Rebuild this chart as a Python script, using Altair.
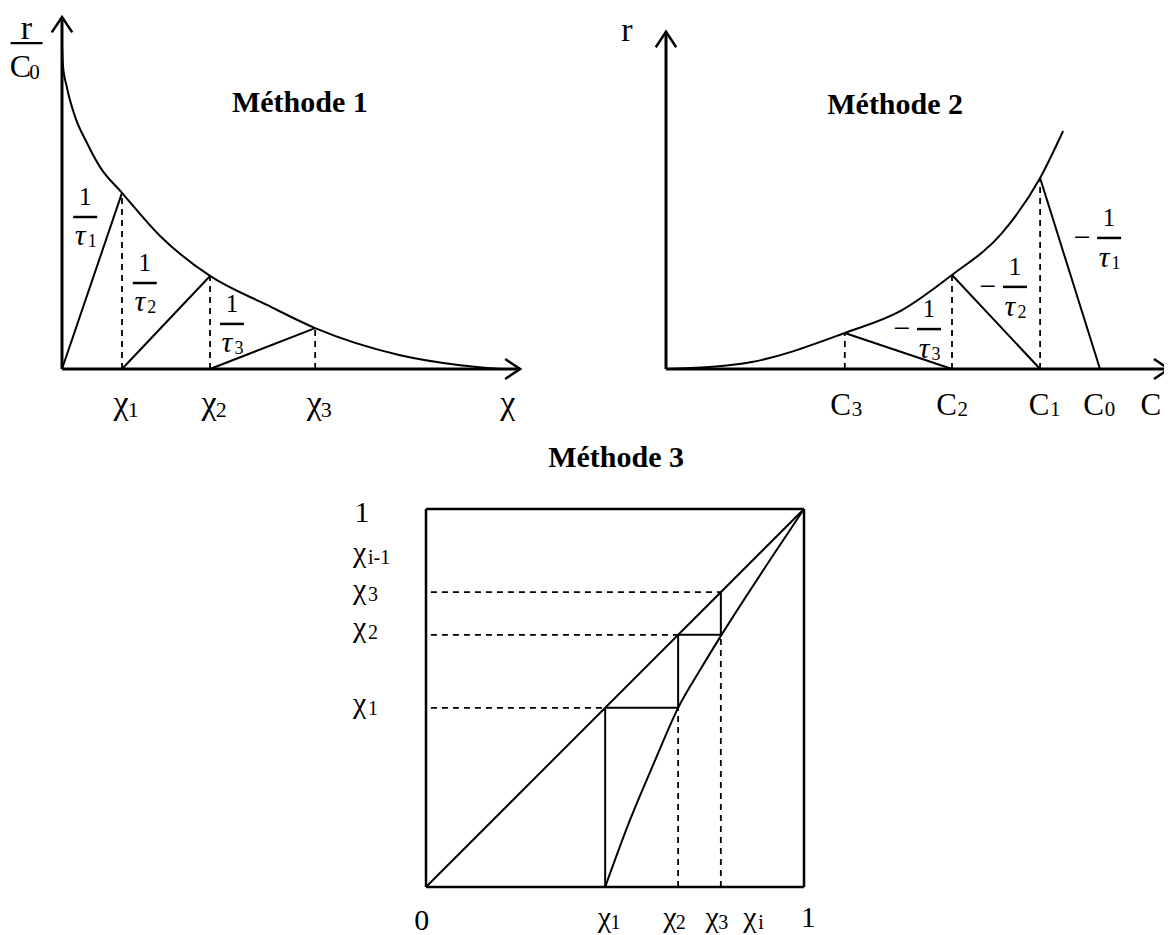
import altair as alt
import pandas as pd

W, H = 1156, 927
FONT = "Liberation Serif"
NB = "\u00a0"

# ---------------- Méthode 1 : r/C0 = f(χ) ----------------
m1_curve_x = [0.0, 0.002, 0.011, 0.030, 0.057, 0.087, 0.137, 0.224, 0.338, 0.468, 0.578, 0.772, 0.909, 1.0]
m1_curve_y = [1.0, 0.944, 0.876, 0.783, 0.702, 0.627, 0.547, 0.413, 0.289, 0.199, 0.127, 0.043, 0.012, 0.0]
m1_chi = [0.137, 0.338, 0.578]
m1_rate = [0.547, 0.289, 0.127]
m1_tick_sub = ["1", "2", "3", ""]
m1_tick_pos = [0.135, 0.336, 0.576, 1.018]
m1_frac_x = [0.053, 0.189, 0.388]
m1_frac_y = [0.472, 0.267, 0.140]
m1_frac_sub = ["1", "2", "3"]
m1_axis_end = [1.046, 1.093]

# ---------------- Méthode 2 : r = f(C) ----------------
m2_curve_x = [0.0, 0.100, 0.198, 0.412, 0.544, 0.659, 0.774, 0.862, 0.915]
m2_curve_y = [0.0, 0.006, 0.022, 0.112, 0.183, 0.292, 0.422, 0.593, 0.739]
m2_conc = [0.862, 0.659, 0.412]      # C1, C2, C3
m2_rate = [0.593, 0.292, 0.112]
m2_c0 = 1.0
m2_tick_main = ["C", "C", "C", "C", "C"]
m2_tick_sub = ["3", "2", "1", "0", ""]
m2_tick_pos = [0.407, 0.651, 0.864, 0.990, 1.122]
m2_frac_x = [1.021, 0.804, 0.606]
m2_frac_y = [0.407, 0.255, 0.124]
m2_frac_sub = ["1", "2", "3"]
m2_axis_end = [1.159, 1.047]

# ---------------- Méthode 3 : diagramme en escalier ----------------
m3_curve_x = [0.474, 0.540, 0.606, 0.667, 0.725, 0.783, 0.910, 1.0]
m3_curve_y = [0.0, 0.178, 0.335, 0.474, 0.574, 0.669, 0.865, 1.0]
m3_chi = [0.474, 0.667, 0.780]
m3_left_sub = [NB + "i-1", NB + "3", "2", "1"]
m3_left_pos = [0.860, 0.762, 0.661, 0.460]
m3_bottom_sub = ["1", "2", "3", "i"]
m3_bottom_pos = [0.472, 0.645, 0.757, 0.857]

# panel placement on the page: origin x, origin y, px per unit x, px per unit y
GEOM = {1: (62, 369, 438, 322), 2: (666, 369, 434, 322), 3: (426, 887, 378, 378)}


def xs(p):
    ox, oy, sx, sy = GEOM[p]
    x0 = -(ox - 8) / sx
    return alt.Scale(domain=[x0, x0 + W / sx], nice=False, zero=False)


def ys(p):
    ox, oy, sx, sy = GEOM[p]
    y0 = (oy - 8 - H) / sy
    return alt.Scale(domain=[y0, y0 + H / sy], nice=False, zero=False)


def enc(p, seg=False):
    d = dict(x=alt.X("x:Q", scale=xs(p), axis=None),
             y=alt.Y("y:Q", scale=ys(p), axis=None))
    if seg:
        d["x2"] = alt.X2("x2:Q")
        d["y2"] = alt.Y2("y2:Q")
    return d


def segs(p, rows, width=2.0, dash=None):
    df = pd.DataFrame(rows, columns=["x", "y", "x2", "y2"])
    kw = dict(color="black", strokeWidth=width)
    if dash:
        kw["strokeDash"] = dash
    return alt.Chart(df).mark_rule(**kw).encode(**enc(p, seg=True))


def curve(p, xv, yv, width=2.0):
    df = pd.DataFrame({"x": xv, "y": yv})
    return alt.Chart(df).mark_line(color="black", strokeWidth=width,
                                   interpolate="monotone").encode(**enc(p))


def txt(p, xv, yv, tv, size, dx=0, dy=0, align="center", baseline="middle",
        weight="normal", style="normal"):
    df = pd.DataFrame({"x": xv, "y": yv, "t": tv})
    return alt.Chart(df).mark_text(font=FONT, fontSize=size, dx=dx, dy=dy, align=align,
                                   baseline=baseline, fontWeight=weight, fontStyle=style,
                                   color="black").encode(**enc(p), text="t:N")


def bars(p, xv, yv, half=12, width=2.5):
    df = pd.DataFrame({"x": xv, "y": yv, "x2": xv})
    return alt.Chart(df).mark_rule(color="black", strokeWidth=width,
                                   xOffset=-half, x2Offset=half).encode(
        x=alt.X("x:Q", scale=xs(p), axis=None), x2="x2:Q",
        y=alt.Y("y:Q", scale=ys(p), axis=None))


ARROW = "M-1,1.5L0,0L1,1.5"


def arrows(p, xend, yend):
    up = pd.DataFrame({"x": [0.0], "y": [yend]})
    right = pd.DataFrame({"x": [xend], "y": [0.0]})
    a1 = alt.Chart(up).mark_point(shape=ARROW, size=420, filled=False, color="black",
                                  strokeWidth=2.5, opacity=1, angle=0).encode(**enc(p))
    a2 = alt.Chart(right).mark_point(shape=ARROW, size=400, filled=False, color="black",
                                     strokeWidth=2.5, opacity=1, angle=90).encode(**enc(p))
    return [a1, a2]


layers = []

# ===== Méthode 1 =====
p = 1
layers.append(segs(p, [[0, 0, 0, m1_axis_end[1]], [0, 0, m1_axis_end[0], 0]], width=3))
layers += arrows(p, m1_axis_end[0], m1_axis_end[1])
layers.append(curve(p, m1_curve_x, m1_curve_y))
starts = [0.0] + m1_chi[:-1]
layers.append(segs(p, [[s, 0, c, r] for s, c, r in zip(starts, m1_chi, m1_rate)], width=2))
layers.append(segs(p, [[c, 0, c, r] for c, r in zip(m1_chi, m1_rate)], width=1.8, dash=[6, 5]))
layers.append(txt(p, m1_tick_pos, [0] * 4, ["χ"] * 4, 34, dy=45, baseline="alphabetic"))
layers.append(txt(p, m1_tick_pos, [0] * 4, m1_tick_sub, 22, dx=12, dy=48, baseline="alphabetic"))
layers.append(txt(p, m1_frac_x, m1_frac_y, ["1"] * 3, 25, dy=-20))
layers.append(bars(p, m1_frac_x, m1_frac_y))
layers.append(txt(p, m1_frac_x, m1_frac_y, ["τ"] * 3, 30, dx=-5, dy=19, style="italic"))
layers.append(txt(p, m1_frac_x, m1_frac_y, m1_frac_sub, 18, dx=7, dy=25))
layers.append(txt(p, [0.543], [0.826], ["Méthode 1"], 30, weight="bold"))
# r / C0 axis title
layers.append(txt(p, [-0.081], [1.012], ["r"], 34, dy=-4, baseline="alphabetic"))
layers.append(bars(p, [-0.081], [1.012], half=16, width=2.2))
layers.append(txt(p, [-0.081], [1.012], ["C"], 32, dx=-6, dy=34, baseline="alphabetic"))
layers.append(txt(p, [-0.081], [1.012], ["0"], 21, dx=8, dy=36, baseline="alphabetic"))

# ===== Méthode 2 =====
p = 2
layers.append(segs(p, [[0, 0, 0, m2_axis_end[1]], [0, 0, m2_axis_end[0], 0]], width=3))
layers += arrows(p, m2_axis_end[0], m2_axis_end[1])
layers.append(curve(p, m2_curve_x, m2_curve_y))
ends = [m2_c0] + m2_conc[:-1]
layers.append(segs(p, [[c, r, e, 0] for c, r, e in zip(m2_conc, m2_rate, ends)], width=2))
layers.append(segs(p, [[c, 0, c, r] for c, r in zip(m2_conc, m2_rate)], width=1.8, dash=[6, 5]))
layers.append(txt(p, m2_tick_pos, [0] * 5, m2_tick_main, 31, dx=-2, dy=46, baseline="alphabetic"))
layers.append(txt(p, m2_tick_pos, [0] * 5, m2_tick_sub, 21, dx=9, dy=47, align="left",
                  baseline="alphabetic"))
layers.append(txt(p, m2_frac_x, m2_frac_y, ["1"] * 3, 25, dy=-20))
layers.append(bars(p, m2_frac_x, m2_frac_y))
layers.append(txt(p, m2_frac_x, m2_frac_y, ["−"] * 3, 30, dx=-27, dy=0))
layers.append(txt(p, m2_frac_x, m2_frac_y, ["τ"] * 3, 30, dx=-5, dy=20, style="italic"))
layers.append(txt(p, m2_frac_x, m2_frac_y, m2_frac_sub, 18, dx=7, dy=26))
layers.append(txt(p, [0.528], [0.820], ["Méthode 2"], 30, weight="bold"))
layers.append(txt(p, [-0.090], [1.037], ["r"], 34, dy=6, baseline="alphabetic"))

# ===== Méthode 3 =====
p = 3
layers.append(segs(p, [[0, 0, 1, 0], [1, 0, 1, 1], [1, 1, 0, 1], [0, 1, 0, 0]], width=2.5))
layers.append(segs(p, [[0, 0, 1, 1]], width=2))
layers.append(curve(p, m3_curve_x, m3_curve_y))
c1, c2, c3 = m3_chi
stairs = [[c1, 0, c1, c1], [c1, c1, c2, c1], [c2, c1, c2, c2], [c2, c2, c3, c2], [c3, c2, c3, c3]]
layers.append(segs(p, stairs, width=2))
dashed = [[0.013, c1, c1, c1], [0.013, c2, c2, c2], [0.013, c3, c3, c3],
          [c2, 0, c2, c1], [c3, 0, c3, c2]]
layers.append(segs(p, dashed, width=1.8, dash=[6, 5]))
layers.append(txt(p, [-0.193] * 4, m3_left_pos, ["χ"] * 4, 30, align="left", baseline="alphabetic"))
layers.append(txt(p, [-0.193] * 4, m3_left_pos, m3_left_sub, 20, dx=15, dy=2, align="left",
                  baseline="alphabetic"))
layers.append(txt(p, [-0.169], [1.0], ["1"], 30, dy=4))
layers.append(txt(p, [-0.011], [0.0], ["0"], 30, dy=34))
layers.append(txt(p, [1.011], [0.0], ["1"], 30, dy=31))
layers.append(txt(p, m3_bottom_pos, [0.0] * 4, ["χ"] * 4, 30, dy=40, baseline="alphabetic"))
layers.append(txt(p, m3_bottom_pos, [0.0] * 4, m3_bottom_sub, 20, dx=11, dy=42,
                  baseline="alphabetic"))
layers.append(txt(p, [0.503], [1.135], ["Méthode 3"], 30, weight="bold"))

chart = alt.layer(*layers).resolve_scale(x="independent", y="independent").properties(
    width=W, height=H, autosize=alt.AutoSizeParams(type="none"), padding=0
).configure_view(stroke=None)

chart.save("out.html", embed_options={"renderer": "svg", "actions": False})
